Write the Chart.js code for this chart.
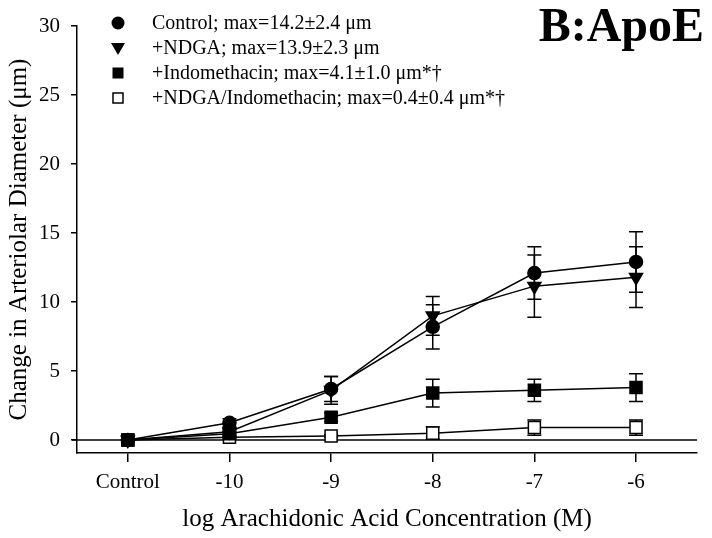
<!DOCTYPE html>
<html>
<head>
<meta charset="utf-8">
<script src="https://cdn.jsdelivr.net/npm/chart.js@4.4.1/dist/chart.umd.min.js"></script>
<style>
  html, body { margin: 0; padding: 0; background: #fff; }
  #wrap { width: 712px; height: 538px; position: relative; }
</style>
</head>
<body>
<div id="wrap"><canvas id="chart" width="712" height="538"></canvas></div>
<script>
// data
const categories = ['Control', '-10', '-9', '-8', '-7', '-6'];
const seriesNames = [
    'Control; max=14.2±2.4 μm',
    '+NDGA; max=13.9±2.3 μm',
    '+Indomethacin; max=4.1±1.0 μm*†',
    '+NDGA/Indomethacin; max=0.4±0.4 μm*†'
];
const controlVals = [0, 1.25, 3.7, 8.2, 12.1, 12.9];
const controlErr  = [0, 0.3, 0.9, 1.6, 1.9, 2.2];
const ndgaVals    = [0, 0.6, 3.6, 9.0, 11.15, 11.8];
const ndgaErr     = [0, 0.2, 1.0, 1.4, 2.25, 2.2];
const indoVals    = [0, 0.45, 1.65, 3.4, 3.6, 3.8];
const indoErr     = [0, 0.2, 0.3, 1.0, 0.8, 1.0];
const bothVals    = [0, 0.2, 0.3, 0.5, 0.9, 0.9];
const bothErr     = [0, 0.1, 0.1, 0.45, 0.55, 0.55];
const yTicks = [0, 5, 10, 15, 20, 25, 30];

const serif = '"Liberation Serif", "DejaVu Serif", serif';

function toPoints(vals, errs) {
    return vals.map((v, i) => ({ x: i, y: v, err: errs[i] }));
}

function makeSet(label, vals, errs, style, fill, radius, rotation) {
    return {
        label: label,
        data: toPoints(vals, errs),
        borderColor: '#000',
        borderWidth: 1.5,
        pointStyle: style,
        pointRadius: radius,
        pointRotation: rotation || 0,
        pointBackgroundColor: fill,
        pointBorderColor: '#000',
        pointBorderWidth: 1.5,
        tension: 0
    };
}

const datasets = [
    makeSet(seriesNames[0], controlVals, controlErr, 'circle', '#000', 6.5),
    makeSet(seriesNames[1], ndgaVals, ndgaErr, 'triangle', '#000', 7.5, 180),
    makeSet(seriesNames[2], indoVals, indoErr, 'rect', '#000', 8.5),
    makeSet(seriesNames[3], bothVals, bothErr, 'rect', '#fff', 8.5)
];

// error bars + zero line, drawn with the chart scales
const errorBars = {
    id: 'errorBars',
    beforeDatasetsDraw(chart) {
        const ctx = chart.ctx;
        const xs = chart.scales.x, ys = chart.scales.y;
        const area = chart.chartArea;
        ctx.save();
        ctx.strokeStyle = '#000';
        ctx.lineWidth = 1.5;
        // zero reference line
        const y0 = ys.getPixelForValue(0);
        ctx.beginPath();
        ctx.moveTo(area.left - 5, y0);
        ctx.lineTo(area.right, y0);
        ctx.stroke();
        chart.data.datasets.forEach(ds => {
            ds.data.forEach(p => {
                if (!p.err) return;
                const x = xs.getPixelForValue(p.x);
                const top = ys.getPixelForValue(p.y + p.err);
                const bot = ys.getPixelForValue(p.y - p.err);
                ctx.beginPath();
                ctx.moveTo(x, top); ctx.lineTo(x, bot);
                ctx.moveTo(x - 7, top); ctx.lineTo(x + 7, top);
                ctx.moveTo(x - 7, bot); ctx.lineTo(x + 7, bot);
                ctx.stroke();
            });
        });
        ctx.restore();
    }
};

// legend list and panel label
const legendBox = {
    id: 'legendBox',
    afterDraw(chart) {
        const ctx = chart.ctx;
        ctx.save();
        ctx.fillStyle = '#000';
        ctx.strokeStyle = '#000';
        ctx.lineWidth = 1.5;
        const mx = 118, tx = 152, y0 = 23, dy = 25;
        chart.data.datasets.forEach((ds, i) => {
            const y = y0 + i * dy;
            ctx.beginPath();
            if (i === 0) {
                ctx.arc(mx, y, 6.5, 0, Math.PI * 2);
                ctx.fill();
            } else if (i === 1) {
                ctx.moveTo(mx - 7, y - 5);
                ctx.lineTo(mx + 7, y - 5);
                ctx.lineTo(mx, y + 7);
                ctx.closePath();
                ctx.fill();
            } else if (i === 2) {
                ctx.fillRect(mx - 5.5, y - 5.5, 11, 11);
            } else {
                ctx.fillStyle = '#fff';
                ctx.fillRect(mx - 5, y - 5, 10, 10);
                ctx.strokeRect(mx - 5, y - 5, 10, 10);
                ctx.fillStyle = '#000';
            }
            ctx.font = '20px ' + serif;
            ctx.textBaseline = 'middle';
            ctx.textAlign = 'left';
            ctx.fillText(ds.label, tx, y + 1);
        });
        ctx.font = 'bold 48px ' + serif;
        ctx.textAlign = 'right';
        ctx.textBaseline = 'alphabetic';
        ctx.fillText('B:ApoE', 704, 41);
        ctx.restore();
    }
};

new Chart(document.getElementById('chart'), {
    type: 'line',
    data: { datasets: datasets },
    options: {
        responsive: false,
        animation: false,
        events: [],
        layout: { padding: { top: 26, right: 15, left: 0, bottom: 0 } },
        plugins: {
            legend: { display: false },
            tooltip: { enabled: false }
        },
        scales: {
            x: {
                type: 'linear',
                min: -0.5,
                max: 5.6,
                afterBuildTicks: (scale) => {
                    scale.ticks = categories.map((c, i) => ({ value: i }));
                },
                afterFit: (scale) => { scale.height = 85; },
                ticks: {
                    callback: (v) => categories[v],
                    color: '#000',
                    font: { family: serif, size: 21 },
                    padding: 8,
                    maxRotation: 0,
                    autoSkip: false
                },
                grid: { drawOnChartArea: false, color: '#000', tickLength: 9, lineWidth: 1.5 },
                border: { color: '#000', width: 1.5 },
                title: {
                    display: true,
                    text: 'log Arachidonic Acid Concentration (M)',
                    color: '#000',
                    font: { family: serif, size: 25 },
                    padding: { top: 2 }
                }
            },
            y: {
                min: -0.94,
                max: 30,
                afterBuildTicks: (scale) => {
                    scale.ticks = yTicks.map(v => ({ value: v }));
                },
                afterFit: (scale) => { scale.width = 77; },
                ticks: {
                    color: '#000',
                    font: { family: serif, size: 21 },
                    padding: 11
                },
                grid: { drawOnChartArea: false, color: '#000', tickLength: 6, lineWidth: 1.5 },
                border: { color: '#000', width: 1.5 },
                title: {
                    display: true,
                    text: 'Change in Arteriolar Diameter (μm)',
                    color: '#000',
                    font: { family: serif, size: 25 },
                    padding: { bottom: 0 }
                }
            }
        }
    },
    plugins: [errorBars, legendBox]
});
</script>
</body>
</html>
